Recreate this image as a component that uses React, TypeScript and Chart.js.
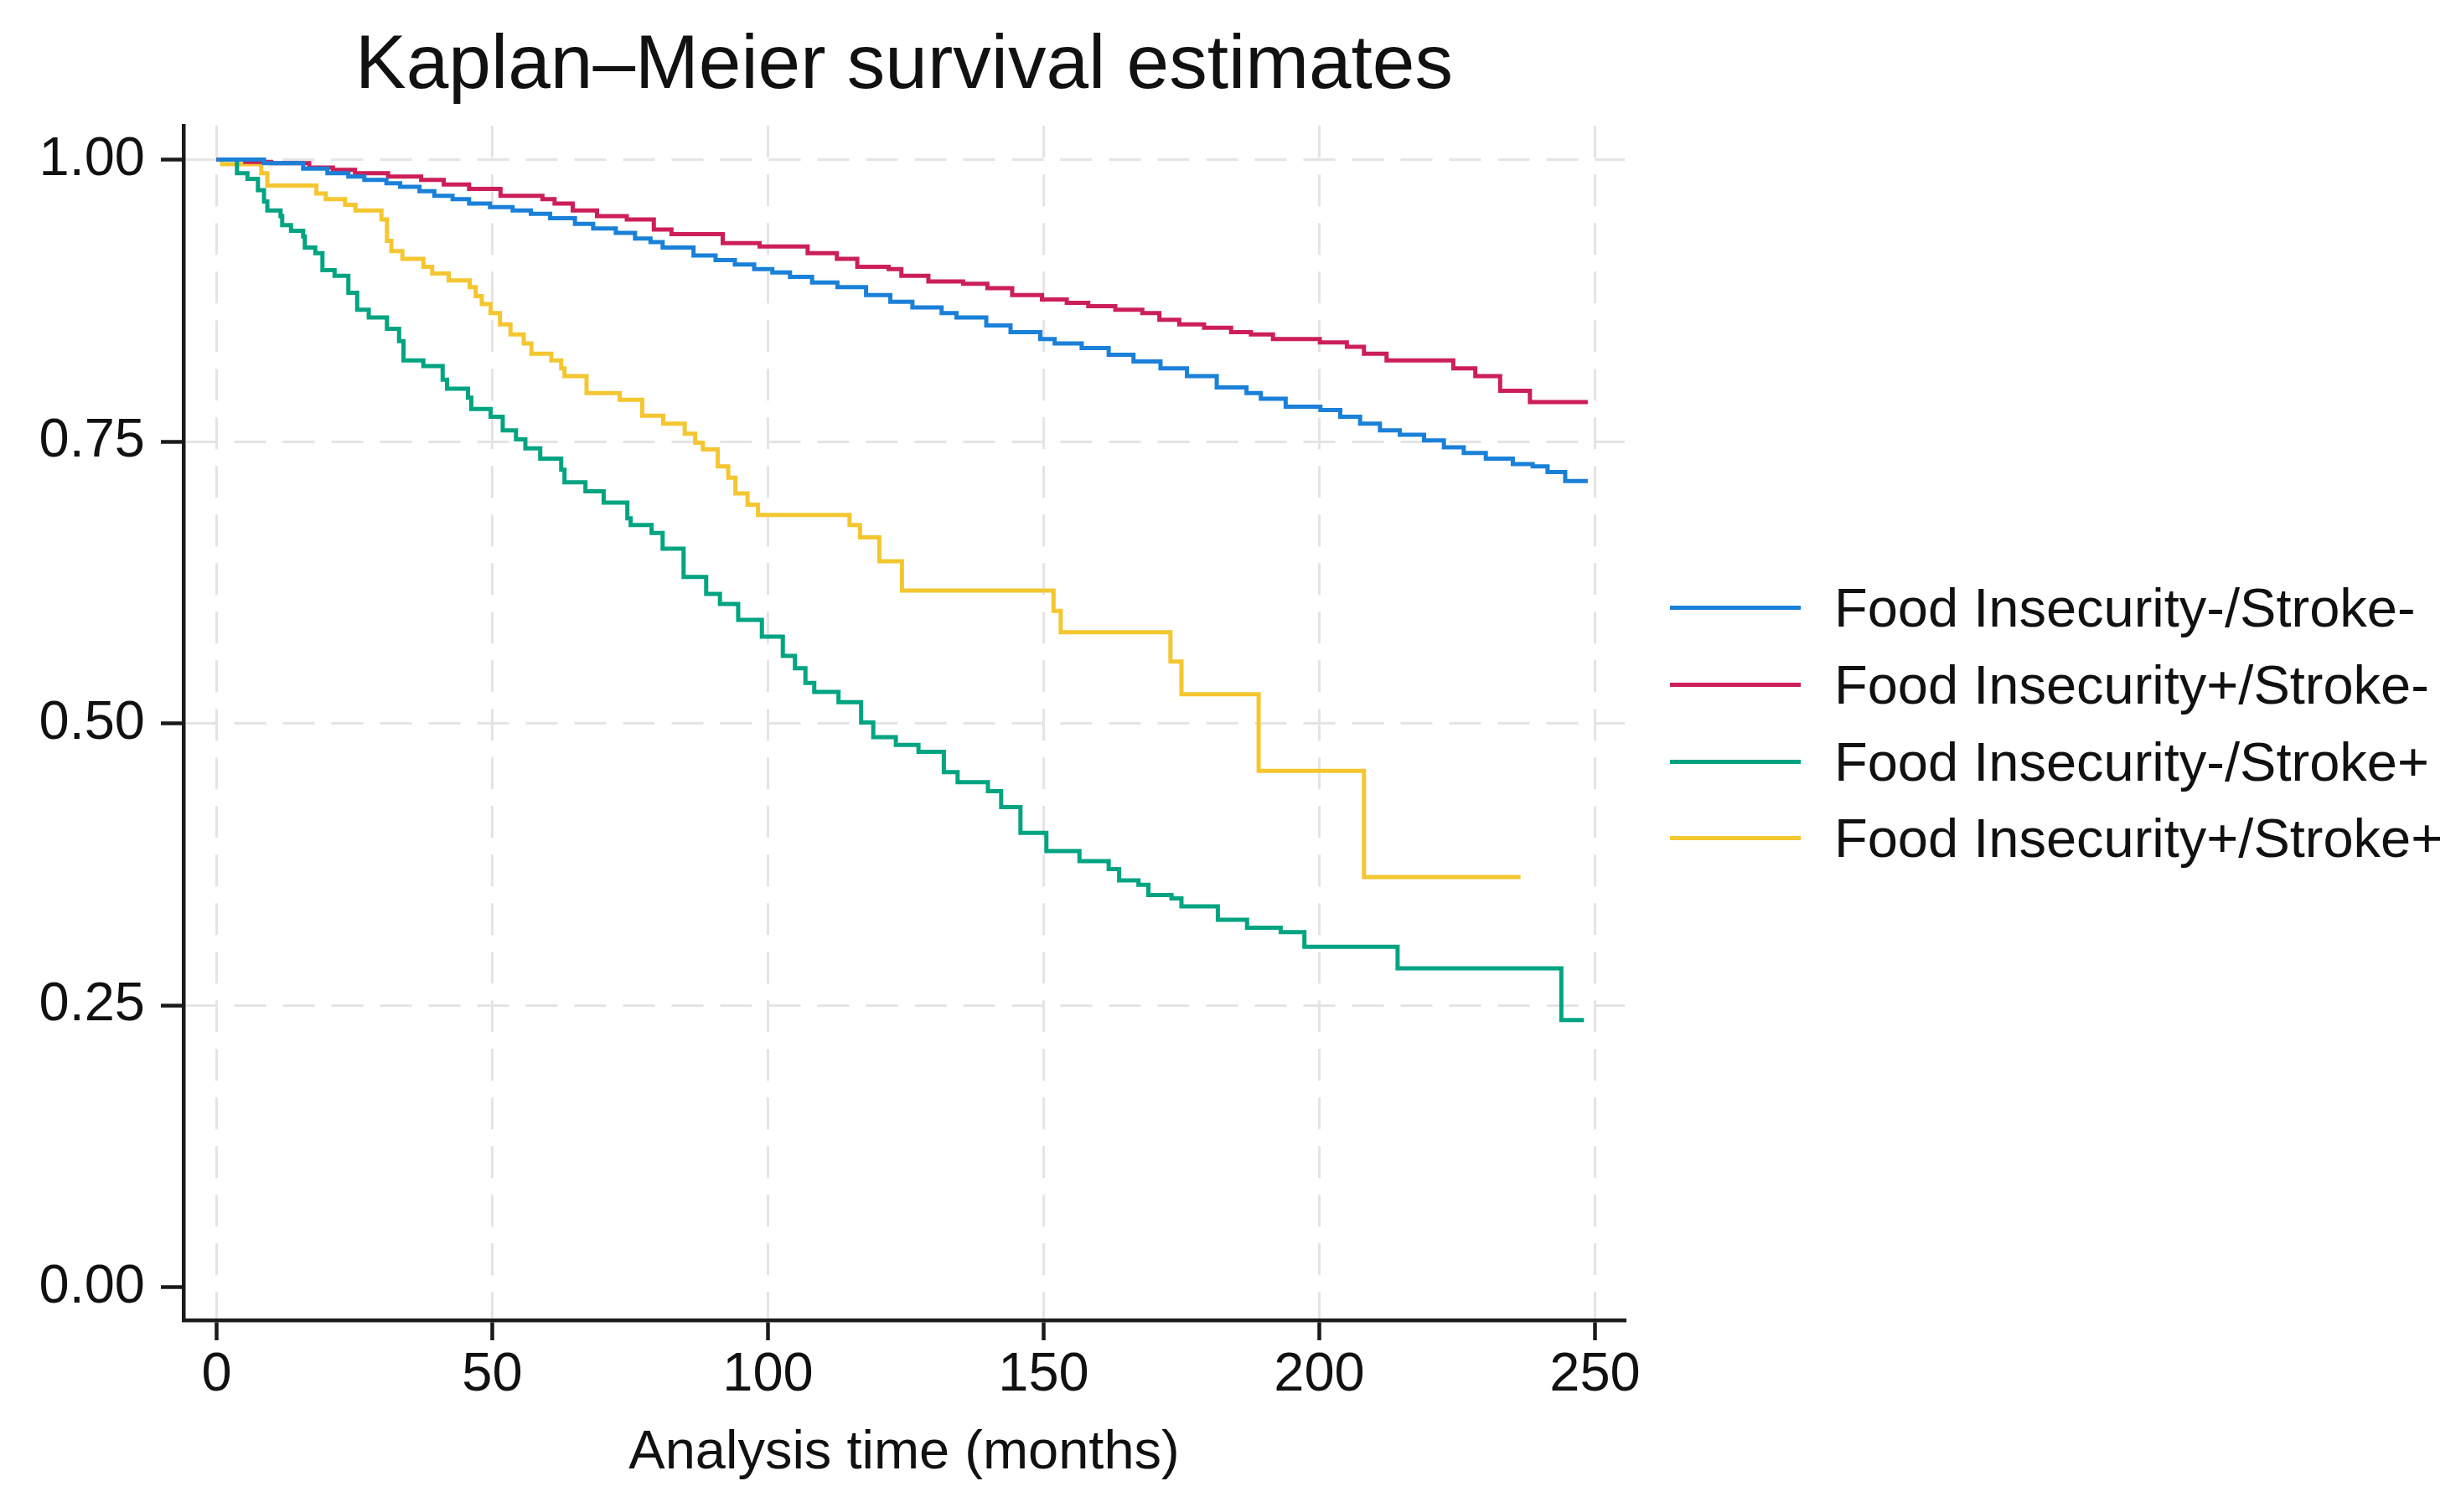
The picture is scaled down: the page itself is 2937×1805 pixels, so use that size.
import { useEffect, useRef } from "react";
import { Chart, registerables } from "chart.js";

Chart.register(...registerables);

//  Labels, colours, ticks

const TITLE = "Kaplan–Meier survival estimates";
const X_TITLE = "Analysis time (months)";
const GROUPS = [
  "Food Insecurity-/Stroke-",
  "Food Insecurity+/Stroke-",
  "Food Insecurity-/Stroke+",
  "Food Insecurity+/Stroke+",
];
const COLORS = ["#1a80d8", "#cc1f58", "#00a481", "#f4c630"];
const X_TICKS = [0, 50, 100, 150, 200, 250];
const Y_TICKS = [0, 0.25, 0.5, 0.75, 1];

const FONT = "'Liberation Sans', Arial, sans-serif";

//  Survival curves (time in months, survival at each drop)

// Food Insecurity-/Stroke-
const T_FIN_SN = [
  0, 8.6, 15.7, 20.1, 23.9, 26.8, 30.8, 33.3, 36.8, 39.5, 42.8, 45.8, 49.6,
  53.7, 57, 60.5, 65, 68.3, 72.4, 75.9, 78.7, 80.9, 86.5, 90.5, 94, 97.5,
  100.8, 104, 108, 112.6, 117.8, 122.2, 126.2, 131.5, 134.2, 139.6, 144,
  149.4, 152, 156.9, 161.8, 166.3, 171.2, 176, 181.4, 186.8, 189.4, 193.9,
  200.2, 203.8, 207.4, 211, 214.6, 219, 222.6, 226.2, 230.2, 235.1, 238.7,
  241.4, 244.6, 248.7,
];
const S_FIN_SN = [
  1, 0.997, 0.992, 0.988, 0.985, 0.982, 0.979, 0.976, 0.972, 0.968, 0.965,
  0.961, 0.958, 0.955, 0.952, 0.948, 0.943, 0.939, 0.935, 0.93, 0.927, 0.922,
  0.915, 0.911, 0.907, 0.903, 0.9, 0.896, 0.891, 0.887, 0.88, 0.874, 0.869,
  0.864, 0.86, 0.853, 0.847, 0.841, 0.837, 0.833, 0.827, 0.821, 0.815, 0.808,
  0.798, 0.793, 0.788, 0.781, 0.778, 0.772, 0.766, 0.76, 0.756, 0.751, 0.745,
  0.74, 0.735, 0.73, 0.728, 0.723, 0.715, 0.715,
];

// Food Insecurity+/Stroke-
const T_FIP_SN = [
  0, 5.2, 9.9, 16.8, 21.1, 25.1, 31.1, 37.1, 41.2, 45.8, 51.5, 59.1, 61.3,
  64.6, 69, 74.4, 79.3, 82.5, 91.8, 98.5, 107.2, 112.5, 116.2, 121.9, 124.2,
  129.1, 135.4, 139.8, 144.3, 149.7, 154.2, 158.1, 163, 167.9, 171, 174.6,
  179.1, 184, 187.6, 191.6, 200.1, 205, 208.1, 212.2, 224.3, 228.3, 232.8,
  238.2, 248.7,
];
const S_FIP_SN = [
  1, 0.998, 0.997, 0.993, 0.991, 0.988, 0.985, 0.982, 0.978, 0.974, 0.968,
  0.965, 0.961, 0.955, 0.95, 0.947, 0.938, 0.934, 0.926, 0.923, 0.917, 0.912,
  0.905, 0.903, 0.897, 0.892, 0.89, 0.886, 0.88, 0.876, 0.873, 0.87, 0.867,
  0.864, 0.858, 0.854, 0.851, 0.847, 0.845, 0.841, 0.838, 0.834, 0.828,
  0.822, 0.815, 0.808, 0.795, 0.785, 0.785,
];

// Food Insecurity-/Stroke+
const T_FIN_SP = [
  0, 3.7, 5.6, 7.5, 8.6, 9.2, 11.6, 11.9, 13.5, 15.7, 16, 17.9, 19.2, 21.4,
  23.9, 25.5, 27.6, 30.9, 33.1, 33.9, 37.5, 41, 41.8, 45.6, 46.2, 49.7, 51.9,
  54.3, 56, 58.7, 62.5, 63.1, 66.9, 70.2, 74.5, 75.1, 78.9, 80.9, 84.7, 88.8,
  91.3, 94.6, 98.9, 102.7, 104.9, 106.8, 108.4, 112.8, 116.9, 119.1, 123.2,
  127.3, 131.9, 134.4, 139.9, 142.3, 145.8, 150.5, 156.5, 161.8, 163.7, 167.2,
  169, 173.2, 175, 181.6, 186.9, 193, 197.3, 214.2, 243.9, 248,
];
const S_FIN_SP = [
  1, 0.988, 0.983, 0.973, 0.963, 0.955, 0.95, 0.942, 0.937, 0.932, 0.922,
  0.917, 0.902, 0.897, 0.882, 0.867, 0.86, 0.85, 0.839, 0.822, 0.817, 0.805,
  0.797, 0.789, 0.779, 0.772, 0.76, 0.752, 0.744, 0.735, 0.725, 0.714, 0.706,
  0.696, 0.682, 0.676, 0.669, 0.655, 0.63, 0.615, 0.606, 0.592, 0.577, 0.56,
  0.549, 0.536, 0.528, 0.519, 0.501, 0.488, 0.481, 0.475, 0.457, 0.448, 0.44,
  0.426, 0.403, 0.387, 0.378, 0.371, 0.361, 0.357, 0.348, 0.345, 0.338, 0.326,
  0.319, 0.315, 0.302, 0.283, 0.237, 0.237,
];

// Food Insecurity+/Stroke+
const T_FIP_SP = [
  0, 1, 8.1, 9.2, 18.1, 19.8, 23.3, 25.2, 29.9, 30.9, 31.7, 33.7, 37.5, 39.1,
  42.1, 45.9, 47, 48.1, 49.7, 51.4, 53.3, 55.7, 57.1, 60.7, 62.5, 63.1, 67.1,
  73.1, 77.2, 81, 84.9, 86.8, 88.2, 90.9, 92.8, 94.1, 96.3, 98.2, 114.8,
  116.7, 120.2, 124.3, 151.8, 153.1, 173, 175, 189, 208.1, 236.5,
];
const S_FIP_SP = [
  1, 0.996, 0.988, 0.977, 0.97, 0.965, 0.96, 0.955, 0.947, 0.928, 0.919,
  0.912, 0.905, 0.899, 0.893, 0.887, 0.879, 0.872, 0.864, 0.854, 0.845, 0.837,
  0.828, 0.822, 0.815, 0.808, 0.793, 0.787, 0.773, 0.766, 0.757, 0.749, 0.743,
  0.728, 0.718, 0.704, 0.694, 0.685, 0.676, 0.665, 0.644, 0.618, 0.6, 0.581,
  0.555, 0.526, 0.458, 0.364, 0.364,
];

const TIMES = [T_FIN_SN, T_FIP_SN, T_FIN_SP, T_FIP_SP];
const SURV = [S_FIN_SN, S_FIP_SN, S_FIN_SP, S_FIP_SP];

//  Component

export default function App() {
  const canvasRef = useRef<HTMLCanvasElement>(null);

  useEffect(() => {
    document.body.style.margin = "0";
    if (!canvasRef.current) return;

    const chart = new Chart(canvasRef.current, {
      type: "line",
      data: {
        datasets: GROUPS.map((label, i) => ({
          label,
          data: TIMES[i].map((t, j) => ({ x: t, y: SURV[i][j] })),
          borderColor: COLORS[i],
          backgroundColor: COLORS[i],
          borderWidth: 5,
          pointRadius: 0,
          stepped: "before" as const,
          fill: false,
        })),
      },
      options: {
        animation: false,
        responsive: true,
        maintainAspectRatio: false,
        layout: { padding: { left: 0, right: 998, top: 0, bottom: 0 } },
        plugins: {
          legend: { display: false },
          tooltip: { enabled: false },
          title: {
            display: true,
            text: TITLE,
            fullSize: false,
            color: "#111",
            font: { family: FONT, size: 91, weight: "normal" },
            padding: { top: 25, bottom: 16 },
          },
        },
        scales: {
          x: {
            type: "linear",
            min: -6,
            max: 255.4,
            afterBuildTicks: (s) => {
              s.ticks = X_TICKS.map((v) => ({ value: v }));
            },
            afterFit: (s) => {
              s.height = 229;
            },
            ticks: {
              color: "#111",
              padding: 3,
              maxRotation: 0,
              font: { family: FONT, size: 65 },
            },
            grid: {
              color: "#e4e4e4",
              lineWidth: 3,
              tickLength: 24,
              tickColor: "#1a1a1a",
              tickWidth: 4.5,
            },
            border: { color: "#1a1a1a", width: 4.5, dash: [38, 20] },
            title: {
              display: true,
              text: X_TITLE,
              color: "#111",
              font: { family: FONT, size: 65 },
              padding: { top: 0, bottom: 31 },
            },
          },
          y: {
            min: -0.029,
            max: 1.03,
            afterBuildTicks: (s) => {
              s.ticks = Y_TICKS.map((v) => ({ value: v }));
            },
            afterFit: (s) => {
              s.width = 219;
            },
            ticks: {
              color: "#111",
              padding: 19,
              font: { family: FONT, size: 65 },
              callback: (v) => Number(v).toFixed(2),
            },
            grid: {
              color: (ctx) =>
                ctx.tick && ctx.tick.value === 0 ? "rgba(0,0,0,0)" : "#e4e4e4",
              lineWidth: 3,
              tickLength: 27,
              tickColor: "#1a1a1a",
              tickWidth: 4.5,
            },
            border: { color: "#1a1a1a", width: 4.5, dash: [38, 20] },
          },
        },
      },
    });

    return () => chart.destroy();
  }, []);

  return (
    <div
      style={{
        position: "relative",
        width: 2937,
        height: 1805,
        background: "#fff",
      }}
    >
      <canvas ref={canvasRef} />

      {/* Legend */}
      <div style={{ position: "absolute", left: 1993, top: 680 }}>
        {GROUPS.map((label, i) => (
          <div
            key={label}
            style={{ display: "flex", alignItems: "center", height: 91.7 }}
          >
            <div style={{ width: 156, height: 5, background: COLORS[i] }} />
            <span
              style={{
                marginLeft: 40,
                fontFamily: FONT,
                fontSize: 65,
                lineHeight: 1,
                color: "#111",
                whiteSpace: "nowrap",
              }}
            >
              {label}
            </span>
          </div>
        ))}
      </div>
    </div>
  );
}
